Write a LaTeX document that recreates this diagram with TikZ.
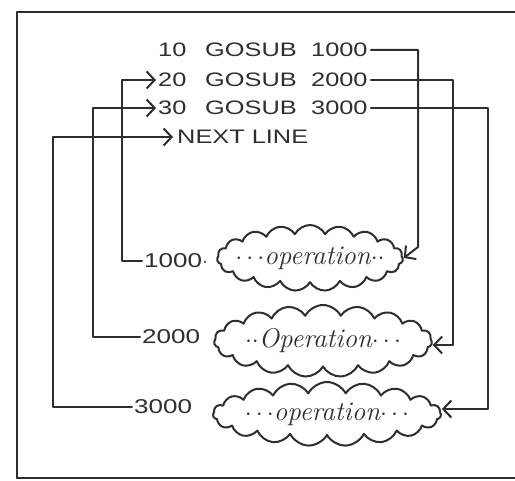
\documentclass[tikz,border=0pt]{standalone}
\usepackage{fontspec}
\usetikzlibrary{shapes.symbols,arrows.meta}
\newfontfamily\handsans[FakeStretch=1.3]{Liberation Sans}
\definecolor{ink}{HTML}{2E2E2E}
\tikzset{
  ink line/.style={draw=ink, line width=2pt, line join=round, line cap=round},
  arr/.style={ink line, -{Straight Barb[length=8pt,width=17pt,line width=2pt]}},
  codeline/.style={anchor=west, inner sep=0pt, text=ink, font=\handsans\fontsize{19.5}{19.5}\selectfont},
  numlabel/.style={anchor=west, inner sep=2pt, text=ink, font=\handsans\fontsize{20}{20}\selectfont},
  puff/.style={cloud, cloud puffs=19, cloud puff arc=125, cloud ignores aspect, ink line, inner sep=0pt},
  optext/.style={inner sep=0pt, text=ink, font=\itshape\fontsize{27}{27}\selectfont}
}
\newcommand{\gline}[3]{\makebox[47pt][l]{#1}\makebox[106pt][l]{#2}#3}
\begin{document}
\begin{tikzpicture}[x=1pt,y=-1pt]
\useasboundingbox (0,0) rectangle (515,481);
% frame
\draw[ink line] (17,478) -- (17,12) -- (540,12);
\draw[ink line] (17,478) -- (540,478);
% program lines
\node[codeline] (l10) at (158,50) {\gline{10}{GOSUB}{1000}};
\node[codeline] (l20) at (158,80) {\gline{20}{GOSUB}{2000}};
\node[codeline] (l30) at (158,108) {\gline{30}{GOSUB}{3000}};
\node[codeline] (lnext) at (177,137) {NEXT LINE};
% subroutines
\node[puff, minimum width=186pt, minimum height=66pt] (c1) at (310,258) {};
\node[puff, minimum width=218pt, minimum height=72pt] (c2) at (323,341) {};
\node[puff, minimum width=228pt, minimum height=64pt] (c3) at (327,414) {};
\node[optext] (t1) at (c1) {$\cdots$operation$\cdot\cdot$};
\node[optext] (t2) at (c2) {$\cdot\cdot$Operation$\cdots$};
\node[optext] (t3) at (c3) {$\cdots$operation$\cdots$};
\node[numlabel] (n1) at (142,261) {1000$\cdot$};
\node[numlabel] (n2) at (140,337) {2000};
\node[numlabel] (n3) at (132,407) {3000};
% calls
\coordinate (r1) at (418,247);
\coordinate (r2) at (453,345);
\coordinate (r3) at (488,409);
\draw[arr] (l10.east) ++(3,0) -| (r1) -- (c1.east);
\draw[arr] (l20.east) ++(3,0) -| (r2) -- (c2.east |- r2);
\draw[arr] (l30.east) ++(3,0) -| (r3) -- (c3.east |- r3);
% returns
\coordinate (v1) at (122,0);
\coordinate (v2) at (93,0);
\coordinate (v3) at (53,0);
\draw[arr] (n1.west) -| (v1 |- l20.west) -- ([xshift=-2pt]l20.west);
\draw[arr] (n2.west) -| (v2 |- l30.west) -- ([xshift=-2pt]l30.west);
\draw[arr] (n3.west) -| (v3 |- lnext.west) -- ([xshift=-4pt]lnext.west);
\end{tikzpicture}
\end{document}
